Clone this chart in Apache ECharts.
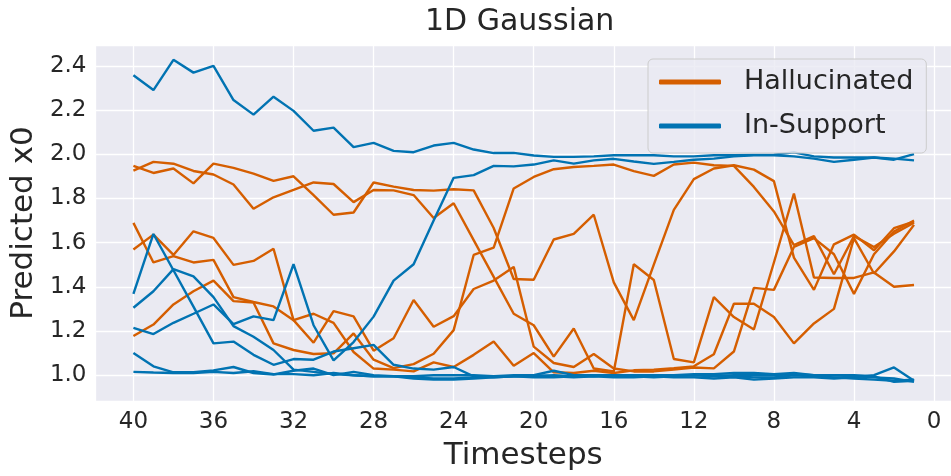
<!DOCTYPE html>
<html>
<head>
<meta charset="utf-8">
<title>1D Gaussian</title>
<script src="https://cdn.jsdelivr.net/npm/echarts@6/dist/echarts.min.js"></script>
<style>
  html, body { margin: 0; padding: 0; background: #fff; }
  #chart { width: 951px; height: 476px; }
</style>
</head>
<body>
<div id="chart"></div>
<script>
// timesteps, read left to right (axis runs 40 -> 0)
var steps = [40, 39, 38, 37, 36, 35, 34, 33, 32, 31, 30, 29, 28, 27, 26, 25, 24, 23, 22, 21,
             20, 19, 18, 17, 16, 15, 14, 13, 12, 11, 10, 9, 8, 7, 6, 5, 4, 3, 2, 1];

// Hallucinated runs (orange)
var halluc1 = [1.947, 1.915, 1.935, 1.868, 1.957, 1.938, 1.912, 1.879, 1.900, 1.815, 1.726, 1.736, 1.872, 1.853,
               1.838, 1.835, 1.841, 1.836, 1.666, 1.435, 1.432, 1.614, 1.639, 1.726, 1.420, 1.249, 1.500, 1.748, 1.887, 1.935,
               1.950, 1.930, 1.878, 1.532, 1.386, 1.592, 1.636, 1.565, 1.665, 1.695];
var halluc2 = [1.926, 1.965, 1.957, 1.924, 1.908, 1.863, 1.753, 1.805, 1.838, 1.872, 1.865, 1.783, 1.838, 1.836,
               1.815, 1.711, 1.778, 1.611, 1.445, 1.278, 1.226, 1.084, 1.211, 1.030, 1.017,
               1.502, 1.431, 1.073, 1.058, 1.353, 1.263, 1.207, 1.510, 1.822, 1.442, 1.440, 1.440, 1.465, 1.400, 1.408];
var halluc3 = [1.689, 1.510, 1.539, 1.510, 1.522, 1.353, 1.331, 1.311, 1.249, 1.278, 1.237, 1.105, 1.030, 1.025,
               1.017, 1.058, 1.037, 1.092, 1.152, 1.043, 1.100, 1.013, 1.010, 1.020, 1.010, 1.022, 1.025, 1.032, 1.040, 1.095,
               1.323, 1.323, 1.263, 1.144, 1.234, 1.300, 1.620, 1.460, 1.560, 1.680];
var halluc4 = [1.569, 1.636, 1.544, 1.651, 1.621, 1.499, 1.517, 1.572, 1.249, 1.147, 1.290, 1.266, 1.111, 1.167,
               1.340, 1.219, 1.267, 1.390, 1.428, 1.490, 1.129, 1.055, 1.037, 1.096, 1.030, 1.017, 1.017, 1.025, 1.035, 1.031,
               1.107, 1.395, 1.386, 1.580, 1.620, 1.547, 1.368, 1.547, 1.650, 1.700];
var halluc5 = [1.177, 1.229, 1.320, 1.380, 1.428, 1.335, 1.329, 1.144, 1.114, 1.096, 1.099, 1.189, 1.070, 1.032,
               1.050, 1.097, 1.204, 1.544, 1.577, 1.845, 1.897, 1.932, 1.942, 1.947, 1.953, 1.923, 1.902, 1.953, 1.962, 1.950,
               1.947, 1.852, 1.741, 1.589, 1.629, 1.457, 1.629, 1.580, 1.640, 1.690];

// In-Support runs (blue)
var support1 = [2.357, 2.290, 2.427, 2.369, 2.400, 2.245, 2.179, 2.260, 2.196, 2.106, 2.120, 2.032, 2.051, 2.015,
                2.009, 2.039, 2.051, 2.021, 2.005, 2.006, 1.994, 1.988, 1.988, 1.990, 1.995, 1.995, 1.995, 1.990, 1.990, 1.995,
                1.995, 1.997, 1.998, 2.008, 1.990, 1.985, 1.985, 1.985, 1.980, 1.972];
var support2 = [1.214, 1.186, 1.237, 1.278, 1.320, 1.231, 1.266, 1.249, 1.502, 1.226, 1.067, 1.150, 1.265, 1.428,
                1.502, 1.700, 1.893, 1.905, 1.947, 1.945, 1.953, 1.972, 1.957, 1.972, 1.979, 1.967, 1.956, 1.965, 1.975, 1.980,
                1.990, 1.995, 1.995, 1.990, 1.980, 1.965, 1.975, 1.985, 1.975, 2.000];
var support3 = [1.368, 1.639, 1.475, 1.310, 1.144, 1.152, 1.092, 1.047, 1.073, 1.070, 1.107, 1.122, 1.137, 1.047,
                1.030, 1.025, 1.037, 0.995, 0.990, 0.995, 1.000, 0.995, 0.990, 0.995, 0.990, 0.990, 0.995, 0.990, 0.990, 0.985,
                0.990, 0.980, 0.985, 0.990, 0.990, 0.985, 0.990, 1.000, 1.035, 0.975];
var support4 = [1.305, 1.380, 1.480, 1.447, 1.353, 1.222, 1.174, 1.114, 1.025, 1.015, 1.005, 1.000, 0.995, 0.995,
                0.990, 0.985, 0.985, 0.990, 0.995, 1.000, 1.000, 1.020, 1.000, 1.000, 1.000, 0.995, 1.000, 1.000, 1.000, 1.000,
                0.995, 0.990, 0.990, 1.000, 0.995, 0.990, 0.985, 0.980, 0.975, 0.980];
var support5 = [1.100, 1.040, 1.013, 1.013, 1.022, 1.037, 1.010, 1.003, 1.020, 1.030, 1.000, 1.015, 1.000, 0.995,
                0.985, 0.980, 0.980, 0.985, 0.990, 0.995, 0.995, 1.000, 0.995, 0.995, 1.000, 0.995, 0.990, 0.995, 1.000, 0.995,
                1.000, 1.000, 1.000, 1.005, 1.000, 1.000, 1.000, 0.995, 0.970, 0.975];
var support6 = [1.015, 1.012, 1.010, 1.010, 1.015, 1.010, 1.018, 1.005, 1.005, 1.000, 1.010, 1.000, 0.995, 0.995,
                0.995, 1.000, 1.000, 1.000, 0.995, 0.995, 0.990, 0.990, 0.995, 1.000, 1.000, 1.000, 1.000, 1.000, 1.005, 1.005,
                1.010, 1.010, 1.005, 1.010, 1.000, 1.000, 0.995, 0.990, 0.985, 0.970];

var hallucRuns = [halluc1, halluc2, halluc3, halluc4, halluc5];
var supportRuns = [support1, support2, support3, support4, support5, support6];

var ORANGE = '#D55E00';
var BLUE = '#0173B2';
var TEXT = '#262626';
var FONT = 'DejaVu Sans';

function makeSeries(name, color, values) {
  return {
    name: name,
    type: 'line',
    symbol: 'none',
    clip: false,
    itemStyle: { color: color },
    lineStyle: { color: color, width: 2.4 },
    data: values.map(function (v, i) { return [steps[i], v]; })
  };
}

var series = [];
hallucRuns.forEach(function (r) { series.push(makeSeries('Hallucinated', ORANGE, r)); });
supportRuns.forEach(function (r) { series.push(makeSeries('In-Support', BLUE, r)); });

var chart = echarts.init(document.getElementById('chart'));
var option = {
  animation: false,
  backgroundColor: '#ffffff',
  textStyle: { fontFamily: FONT },
  graphic: [{
    type: 'text',
    left: 522 - 97,
    top: 7,
    style: { text: '1D Gaussian', fontSize: 30, fill: TEXT, fontFamily: FONT }
  }],
  grid: {
    left: 94, right: 0, top: 45, bottom: 71,
    show: true,
    backgroundColor: '#EAEAF2',
    borderWidth: 0
  },
  legend: {
    orient: 'vertical',
    left: 648,
    top: 59,
    padding: [8, 13, 12, 11],
    itemGap: 14,
    itemWidth: 62,
    itemHeight: 5,
    icon: 'roundRect',
    backgroundColor: 'rgba(234,234,242,0.8)',
    borderColor: '#cccccc',
    borderWidth: 1,
    borderRadius: 5,
    textStyle: { fontSize: 27, color: TEXT, fontFamily: FONT, lineHeight: 30, padding: [0, 0, 0, 18] },
    data: ['Hallucinated', 'In-Support']
  },
  xAxis: {
    type: 'value',
    inverse: true,
    min: -0.848,
    max: 41.895,
    minInterval: 4,
    maxInterval: 4,
    name: 'Timesteps',
    nameLocation: 'middle',
    nameGap: 39,
    nameTextStyle: { fontSize: 31, color: TEXT, fontFamily: FONT },
    axisLine: { show: false },
    axisTick: { show: false },
    splitLine: { show: true, lineStyle: { color: '#ffffff', width: 1.3 } },
    axisLabel: {
      fontSize: 23, color: TEXT, margin: 10,
      showMinLabel: false, showMaxLabel: false,
      formatter: function (v) { return String(Math.round(v)); }
    }
  },
  yAxis: {
    type: 'value',
    min: 0.8832,
    max: 2.494,
    minInterval: 0.2,
    maxInterval: 0.2,
    name: 'Predicted x0',
    nameLocation: 'middle',
    nameGap: 50,
    nameTextStyle: { fontSize: 31, color: TEXT, fontFamily: FONT },
    axisLine: { show: false },
    axisTick: { show: false },
    splitLine: { show: true, lineStyle: { color: '#ffffff', width: 1.3 } },
    axisLabel: {
      fontSize: 23, color: TEXT, margin: 9,
      showMinLabel: false, showMaxLabel: false,
      formatter: function (v) { return v.toFixed(1); }
    }
  },
  series: series
};
chart.setOption(option);
</script>
</body>
</html>
